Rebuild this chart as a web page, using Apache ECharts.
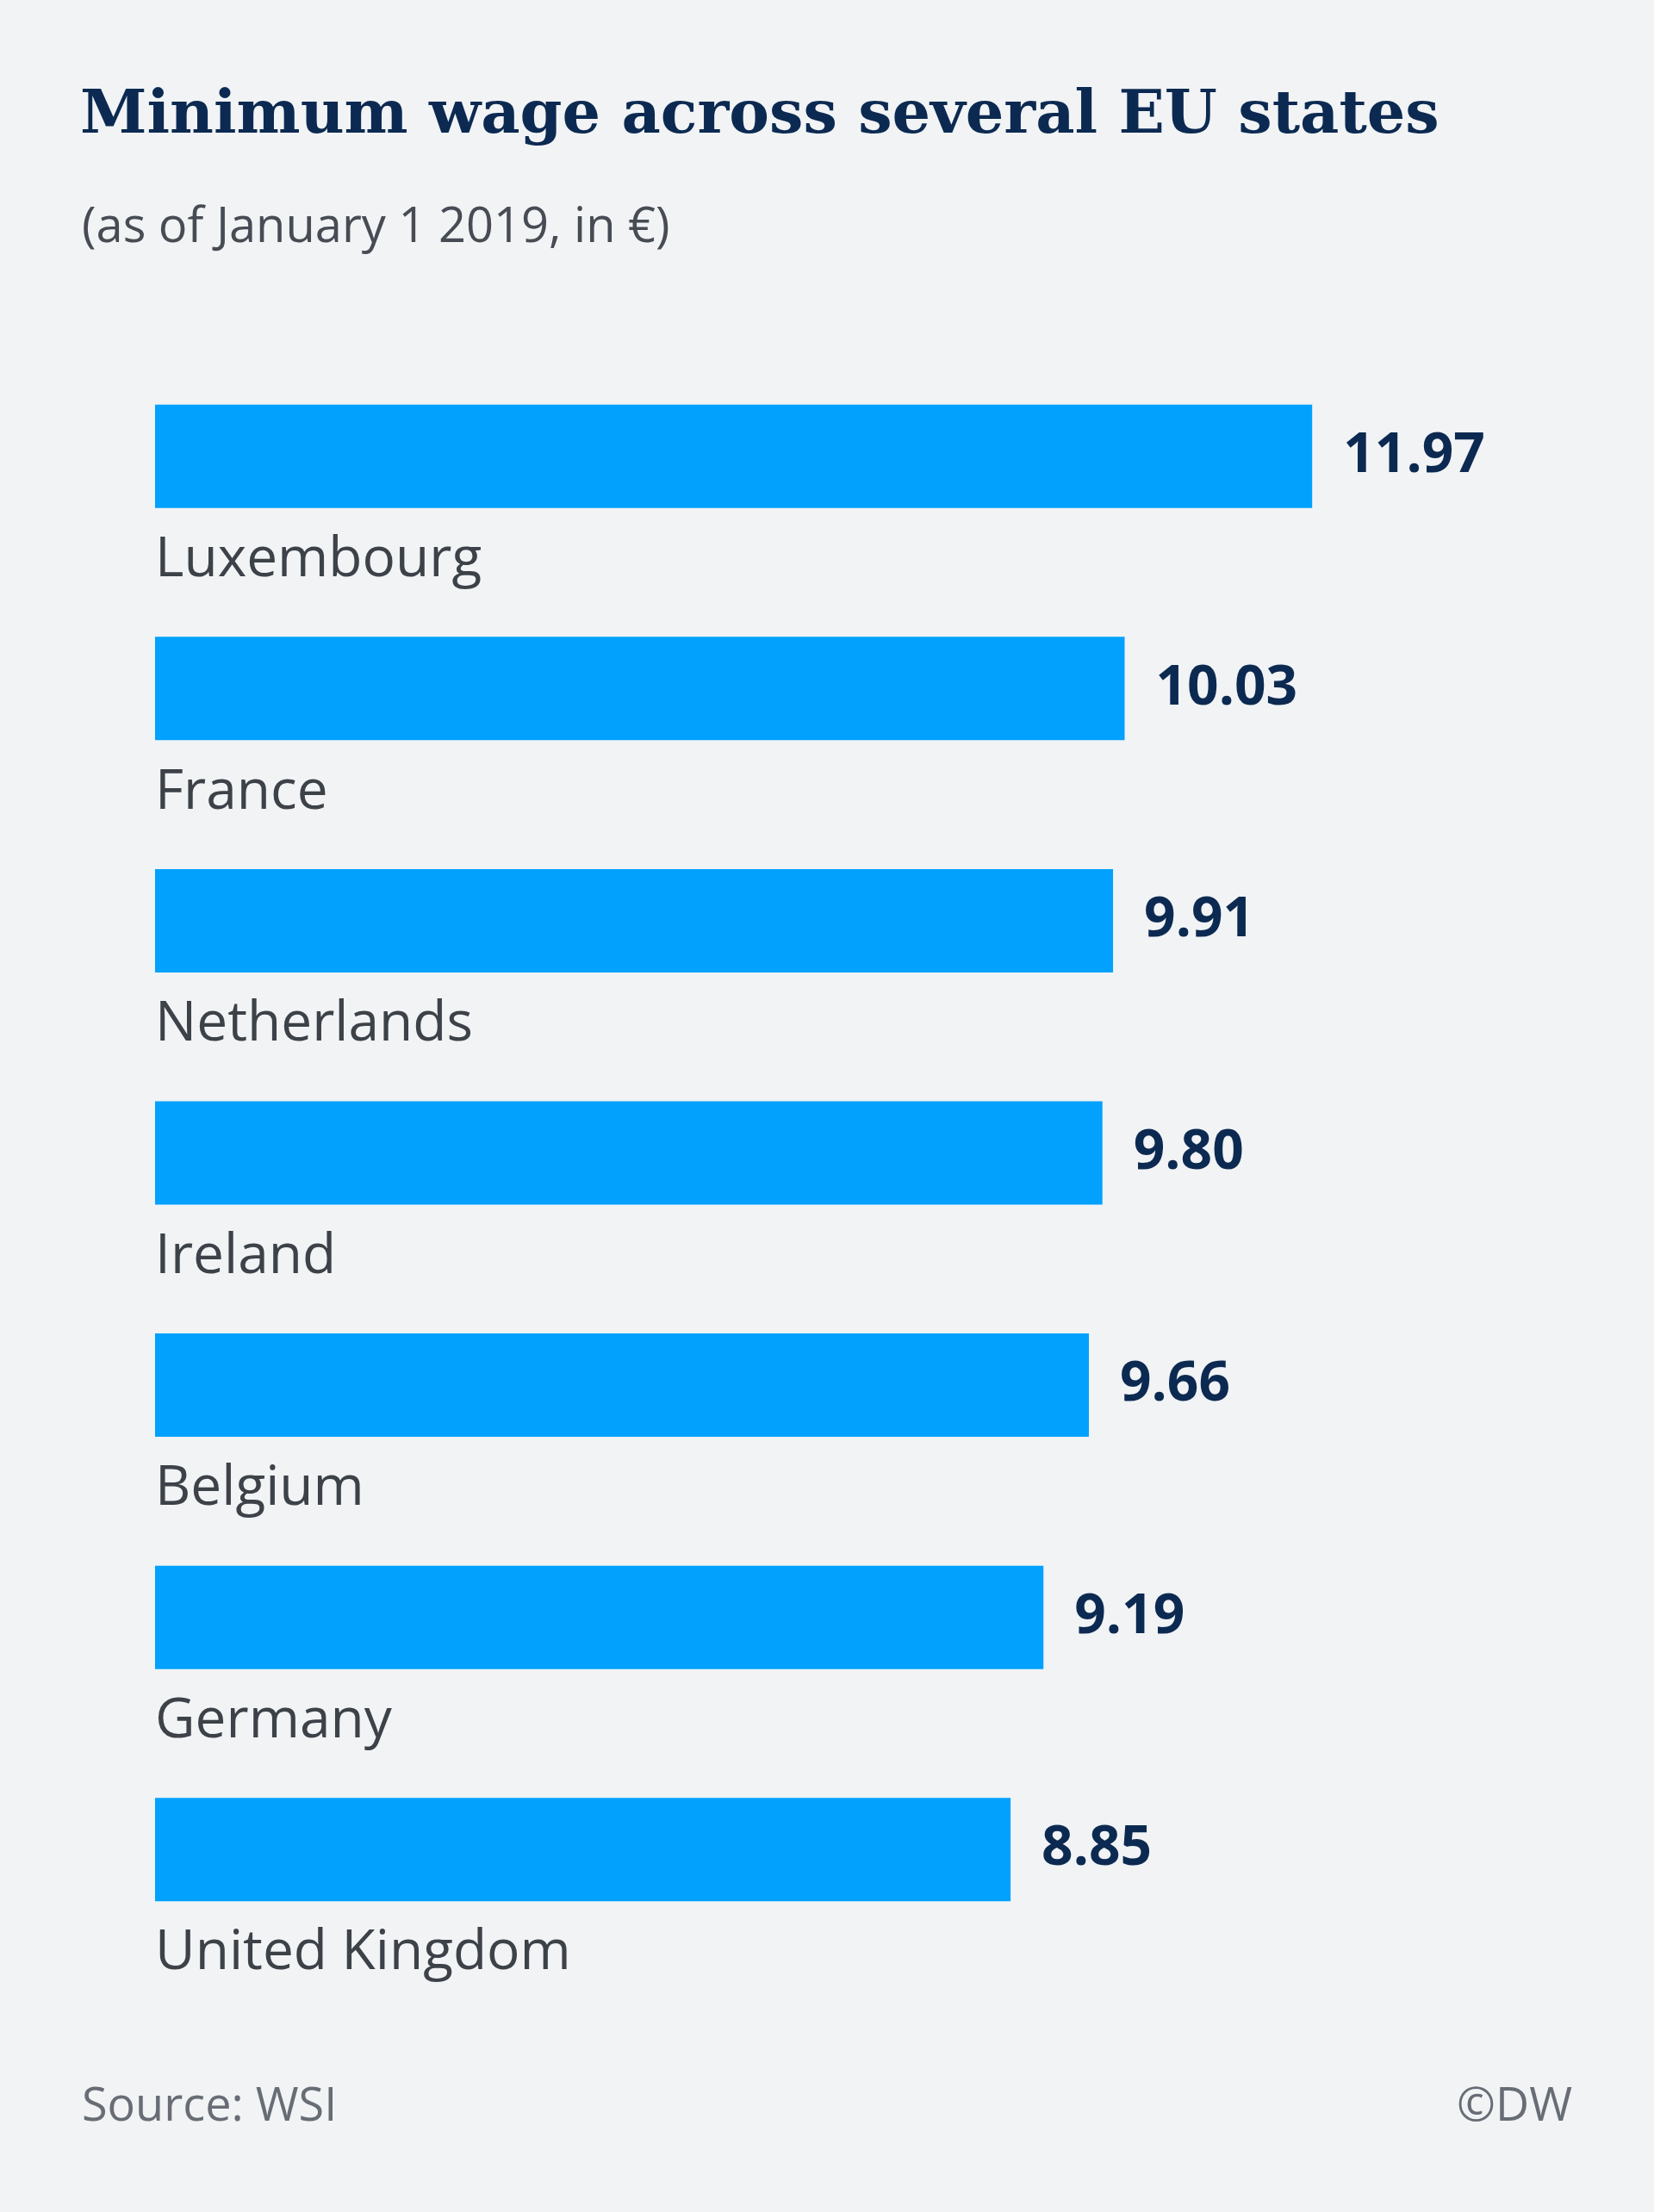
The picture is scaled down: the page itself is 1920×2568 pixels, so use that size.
<!DOCTYPE html>
<html><head><meta charset="utf-8">
<script src="https://cdn.jsdelivr.net/npm/echarts@6/dist/echarts.min.js"></script>
<style>html,body{margin:0;padding:0;background:#f1f3f5}#c{width:1920px;height:2568px}</style>
</head><body><div id="c"></div>
<script>
const categories = ["Luxembourg","France","Netherlands","Ireland","Belgium","Germany","United Kingdom"];
const values = [11.97,10.03,9.91,9.80,9.66,9.19,8.85];
const valueLabels = ["11.97","10.03","9.91","9.80","9.66","9.19","8.85"];
const chart = echarts.init(document.getElementById('c'));
chart.setOption({
  backgroundColor:'#f1f3f5',
  animation:false,
  title:[
    {text:'Minimum wage across several EU states',left:88,top:96,textStyle:{fontFamily:'DejaVu Serif',fontWeight:'bold',fontSize:70,color:'#0c2a51'}},
    {text:'(as of January 1 2019, in €)',left:90,top:232,textStyle:{fontFamily:'Open Sans',fontWeight:'normal',fontSize:56,color:'#474c54'}},
    {text:'Source: WSI',left:90,top:2415,textStyle:{fontFamily:'Open Sans',fontWeight:'normal',fontSize:54,color:'#686d75'}},
    {text:'©DW',right:90,top:2415,textStyle:{fontFamily:'Open Sans',fontWeight:'normal',fontSize:54,color:'#686d75'}}
  ],
  grid:{left:180,top:395,height:1887,width:1571},
  xAxis:{type:'value',min:0,max:14,show:false},
  yAxis:{type:'category',data:categories,inverse:true,show:false},
  series:[
    {type:'bar',data:values,barWidth:120,itemStyle:{color:'#02a1fe'},
     label:{show:true,position:'right',distance:36,formatter:p=>valueLabels[p.dataIndex],
       fontFamily:'Open Sans',fontWeight:'bold',fontSize:64,color:'#0c2a51'}},
    {type:'bar',data:values,barWidth:120,barGap:'-100%',itemStyle:{color:'transparent'},
     label:{show:true,position:[0,181],align:'left',verticalAlign:'middle',formatter:p=>p.name,
       fontFamily:'Open Sans',fontSize:64,color:'#3d4249'}}
  ]
});
</script></body></html>
